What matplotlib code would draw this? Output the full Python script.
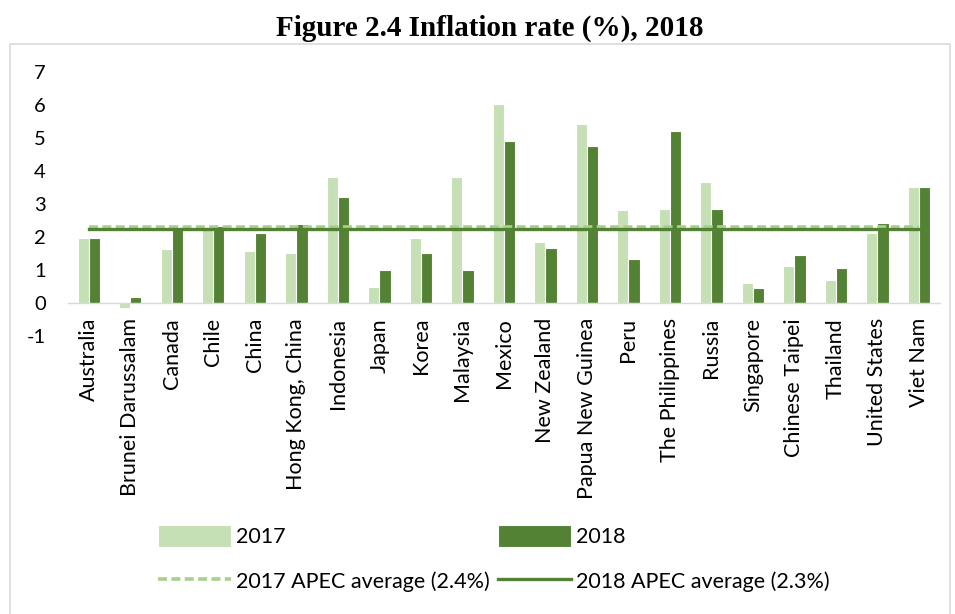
import numpy as np
import matplotlib
matplotlib.use('Agg')
import matplotlib.pyplot as plt
from matplotlib.patches import Rectangle

plt.rcParams['font.family'] = ['Lato', 'DejaVu Sans']
plt.rcParams['axes.unicode_minus'] = False

economies = ['Australia', 'Brunei Darussalam', 'Canada', 'Chile', 'China',
             'Hong Kong, China', 'Indonesia', 'Japan', 'Korea', 'Malaysia',
             'Mexico', 'New Zealand', 'Papua New Guinea', 'Peru',
             'The Philippines', 'Russia', 'Singapore', 'Chinese Taipei',
             'Thailand', 'United States', 'Viet Nam']
infl_2017 = [1.95, -0.17, 1.62, 2.25, 1.58, 1.50, 3.81, 0.48, 1.95, 3.81,
             6.04, 1.84, 5.41, 2.80, 2.85, 3.67, 0.60, 1.10, 0.68, 2.12, 3.52]
infl_2018 = [1.95, 0.16, 2.25, 2.32, 2.12, 2.38, 3.22, 0.99, 1.50, 0.99,
             4.90, 1.65, 4.75, 1.33, 5.20, 2.85, 0.44, 1.45, 1.06, 2.42, 3.52]
avg_2017 = 2.29
avg_2018 = 2.23

light = '#C5E0B4'
dark = '#548235'
dash_col = '#A9D18E'

fig = plt.figure(figsize=(9.55, 6.14), dpi=100)
ax = fig.add_axes([0.0712, 0.4534, 0.9128, 0.4293])

# x axis sits on zero, labels hang below it
ax.spines['bottom'].set_position(('data', 0))
for s in ['top', 'right', 'left']:
    ax.spines[s].set_visible(False)
ax.spines['bottom'].set_color('#D9D9D9')
ax.spines['bottom'].set_linewidth(1)

x = np.arange(len(economies))
w = 0.27
b17 = ax.bar(x - w / 2, infl_2017, width=w, color=light, edgecolor='white', linewidth=0.8, zorder=2)
b18 = ax.bar(x + w / 2, infl_2018, width=w, color=dark, edgecolor='white', linewidth=0.8, zorder=2)
l17, = ax.plot(x, [avg_2017] * len(x), color=dash_col, linestyle=(0, (2.5, 1.2)), linewidth=2.6, zorder=3)
l18, = ax.plot(x, [avg_2018] * len(x), color=dark, linewidth=2.4, zorder=3)

ax.set_xlim(-0.5, len(x) - 0.5)
ax.set_ylim(-1, 7)
ax.set_yticks(range(-1, 8))
ax.set_xticks(x)
ax.set_xticklabels(economies, rotation=90, va='top', ha='center')
ax.tick_params(axis='x', length=0, pad=11, labelsize=15.5, colors='black')
ax.tick_params(axis='y', length=0, pad=16, labelsize=14.5, colors='black')

fig.legend([b17, l17, b18, l18],
           ['2017', '2017 APEC average (2.4%)', '2018', '2018 APEC average (2.3%)'],
           ncol=2, loc='center', bbox_to_anchor=(0.517, 0.091),
           frameon=False, fontsize=15.5, handlelength=3.4, handleheight=1.2,
           handletextpad=0.2, columnspacing=0.4, labelspacing=1.05)

fig.text(0.513, 1 - 28 / 614, 'Figure 2.4 Inflation rate (%), 2018',
         ha='center', va='center', fontsize=21, fontweight='bold',
         family='Liberation Serif')

# light frame round the chart area
fig.patches.append(Rectangle((10 / 955, -0.05), 940 / 955, 1 - 44 / 614 + 0.05,
                             transform=fig.transFigure, fill=False,
                             edgecolor='#D9D9D9', linewidth=1.2))

fig.savefig('out.png', dpi=100)
